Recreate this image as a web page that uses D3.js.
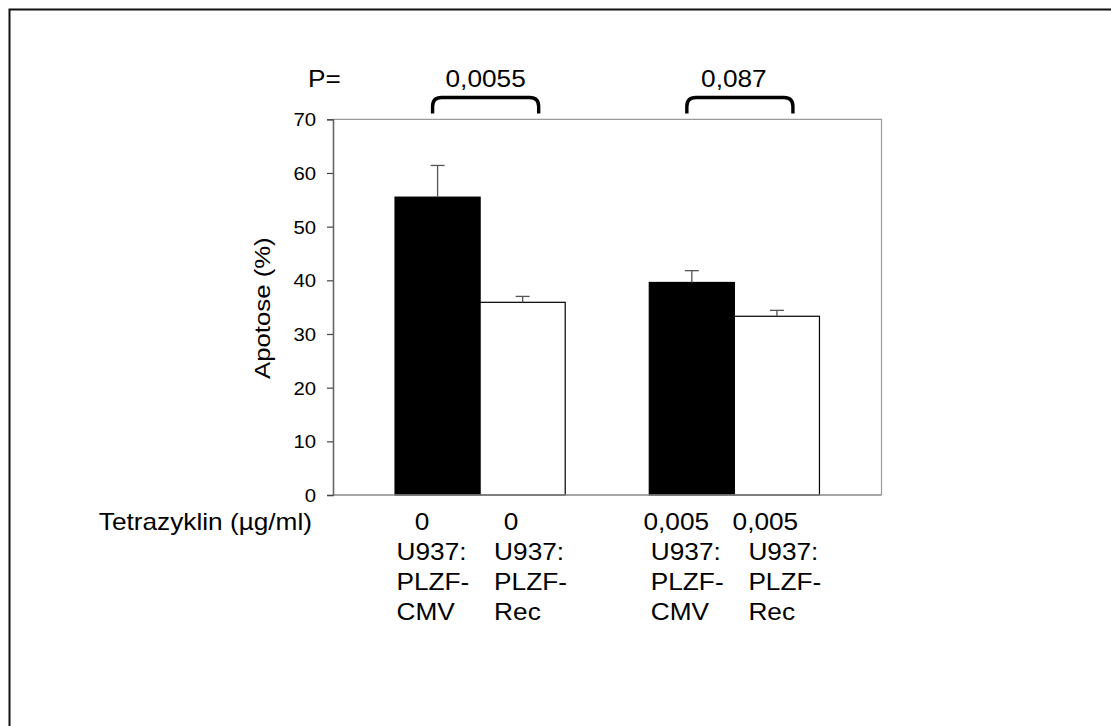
<!DOCTYPE html>
<html>
<head>
<meta charset="utf-8">
<script src="https://cdn.jsdelivr.net/npm/d3@7"></script>
<style>
  html, body { margin: 0; padding: 0; background: #fff; }
  svg { display: block; font-family: Arial, "Liberation Sans", sans-serif; }
</style>
</head>
<body>
<svg id="chart" width="1111" height="726"></svg>
<script>
// ---- data ----
const groups = ["0", "0,005"];              // Tetrazyklin dose (µg/ml)
const series = ["PLZF-CMV", "PLZF-Rec"];
const cmvValues = [55.5, 39.6];
const recValues = [35.9, 33.3];
const cmvErrors = [5.9, 2.2];
const recErrors = [1.1, 1.1];
const cellLabels = [["U937:", "PLZF-", "CMV"], ["U937:", "PLZF-", "Rec"]];
const pValues = ["0,0055", "0,087"];
const yTicks = [0, 10, 20, 30, 40, 50, 60, 70];
const yTitle = "Apotose (%)";
const xTitle = "Tetrazyklin (µg/ml)";
const pLabel = "P=";

// ---- layout ----
const svg = d3.select("#chart");
const pLeft = 333, pRight = 881.5, pTop = 119.3, pBottom = 495;
const SX = 1.14;

const x0 = d3.scaleBand().domain(groups).range([pLeft, pRight])
  .paddingInner(0.3307).paddingOuter(0.244);
const x1 = d3.scaleBand().domain(series).range([0, x0.bandwidth()]);
const y = d3.scaleLinear().domain([0, 70]).range([pBottom, pTop]);

const rows = [];
groups.forEach((g, gi) => {
  rows.push({g, s: series[0], v: cmvValues[gi], e: cmvErrors[gi], fill: "#000", lab: cellLabels[0]});
  rows.push({g, s: series[1], v: recValues[gi], e: recErrors[gi], fill: "#fff", lab: cellLabels[1]});
});

function txt(parent, x, yy, str, size, anchor, sx) {
  return parent.append("text")
    .attr("transform", `translate(${x},${yy}) scale(${sx || SX},1)`)
    .attr("text-anchor", anchor || "start")
    .attr("font-size", size)
    .attr("fill", "#000")
    .text(str);
}

// outer frame (left & top only visible)
svg.append("path").attr("d", "M9.5,726 V9.5 H1111")
  .attr("fill", "none").attr("stroke", "#111").attr("stroke-width", 2);

// plot frame top & right
svg.append("path").attr("d", `M${pLeft},${pTop} H${pRight} V${pBottom}`)
  .attr("fill", "none").attr("stroke", "#9a9a9a").attr("stroke-width", 1.2);

// bars
svg.append("g").selectAll("rect").data(rows).join("rect")
  .attr("x", d => x0(d.g) + x1(d.s))
  .attr("y", d => y(d.v))
  .attr("width", x1.bandwidth())
  .attr("height", d => y(0) - y(d.v))
  .attr("fill", d => d.fill)
  .attr("stroke", "#000").attr("stroke-width", 1.2);

// error bars
const eg = svg.append("g").attr("stroke", "#555").attr("stroke-width", 1.3);
rows.forEach(d => {
  const cx = x0(d.g) + x1(d.s) + x1.bandwidth() / 2;
  eg.append("line").attr("x1", cx).attr("x2", cx).attr("y1", y(d.v)).attr("y2", y(d.v + d.e));
  eg.append("line").attr("x1", cx - 7).attr("x2", cx + 7).attr("y1", y(d.v + d.e)).attr("y2", y(d.v + d.e));
});

// x axis line
svg.append("line").attr("x1", pLeft).attr("x2", pRight).attr("y1", pBottom).attr("y2", pBottom)
  .attr("stroke", "#888").attr("stroke-width", 1.3);

// y axis
const yAxis = svg.append("g").attr("transform", `translate(${pLeft},0)`)
  .call(d3.axisLeft(y).tickValues(yTicks).tickSize(6).tickFormat(d3.format("d")));
yAxis.select(".domain").attr("stroke", "#666").attr("stroke-width", 1.6);
yAxis.selectAll(".tick line").attr("stroke", "#444").attr("stroke-width", 1.2);
yAxis.selectAll(".tick text")
  .attr("x", null).attr("dy", "0.36em")
  .attr("transform", "translate(-17,0) scale(1.13,1)")
  .attr("font-size", 18).attr("font-family", "Arial, 'Liberation Sans', sans-serif")
  .attr("fill", "#000");

// y title
svg.append("text")
  .attr("transform", `translate(270,${(pTop + pBottom) / 2 + 1}) rotate(-90) scale(1.12,1)`)
  .attr("text-anchor", "middle").attr("font-size", 23).attr("fill", "#000")
  .text(yTitle);

// x title & category labels
txt(svg, 312, 530, xTitle, 23, "end");
rows.forEach((d, i) => {
  const bx = x0(d.g) + x1(d.s);
  const isCmv = d.s === series[0];
  txt(svg, bx + (isCmv ? 27 : 31), 530, d.g, 23, "middle");
  d.lab.forEach((line, li) => {
    txt(svg, bx + (isCmv ? 1.5 : 14), 560 + li * 30, line, 23, "start");
  });
});

// P values and brackets
txt(svg, 308, 87, pLabel, 23, "start");
groups.forEach((g, gi) => {
  const xa = x0(g) + x1.bandwidth() / 2 - 5;
  const xb = x0(g) + x0.bandwidth() - x1.bandwidth() / 2 + 16;
  const yb = 113.5, yt = 97.5, r = 9;
  svg.append("path")
    .attr("d", `M${xa},${yb} V${yt + r} Q${xa},${yt} ${xa + r},${yt} H${xb - r} Q${xb},${yt} ${xb},${yt + r} V${yb}`)
    .attr("fill", "none").attr("stroke", "#000").attr("stroke-width", 3.4);
  txt(svg, (xa + xb) / 2 - (gi === 0 ? 0 : 6), 87, pValues[gi], 23, "middle");
});
</script>
</body>
</html>
